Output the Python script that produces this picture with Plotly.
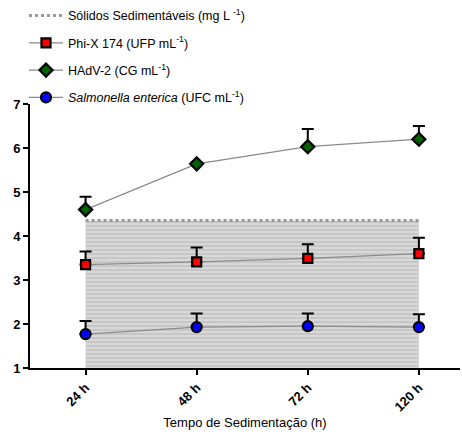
import plotly.graph_objects as go

# Sedimentation time categories
tempos = ["24 h", "48 h", "72 h", "120 h"]

# Settleable solids (mg L-1)
solidos = [4.35, 4.35, 4.35, 4.35]

# Phi-X 174 (log UFP mL-1): mean and upper SD
phix_media = [3.35, 3.41, 3.49, 3.60]
phix_dp = [0.30, 0.33, 0.32, 0.36]

# HAdV-2 (log CG mL-1)
hadv_media = [4.60, 5.64, 6.03, 6.20]
hadv_dp = [0.29, 0.03, 0.40, 0.30]

# Salmonella enterica (log UFC mL-1)
salm_media = [1.77, 1.93, 1.95, 1.93]
salm_dp = [0.30, 0.31, 0.29, 0.29]

yticks = [1, 2, 3, 4, 5, 6, 7]

FONT = "'Liberation Sans', Arial, sans-serif"

fig = go.Figure()

# shaded solids area
fig.add_trace(go.Scatter(
    x=tempos, y=solidos, mode="lines", fill="tozeroy",
    line=dict(width=0, color="rgba(0,0,0,0)"),
    fillcolor="#d6d6d6",
    fillpattern=dict(shape="-", bgcolor="#d8d8d8", fgcolor="#a6a6a6",
                     size=4, solidity=0.18, fillmode="replace"),
    showlegend=False, hoverinfo="skip", legendgroup="g0",
))
# dotted top edge of the solids area
fig.add_trace(go.Scatter(
    x=tempos, y=solidos, mode="lines",
    line=dict(color="#9a9a9a", width=3, dash="dot"),
    name="Sólidos Sedimentáveis (mg L <sup>-1</sup>)",
    legendgroup="g0",
))


def serie(media, dp, nome, simbolo, cor, tamanho, grupo):
    return go.Scatter(
        x=tempos, y=media, mode="lines+markers", name=nome,
        legendgroup=grupo,
        line=dict(color="#8a8a8a", width=1.2),
        marker=dict(symbol=simbolo, size=tamanho, color=cor,
                    line=dict(color="black", width=2.2)),
        error_y=dict(type="data", symmetric=False, array=dp,
                     arrayminus=[0] * len(dp), color="black",
                     thickness=2, width=6),
    )


fig.add_trace(serie(phix_media, phix_dp, "Phi-X 174 (UFP mL<sup>-1</sup>)",
                    "square", "#ff0000", 9, "g1"))
fig.add_trace(serie(hadv_media, hadv_dp, "HAdV-2 (CG mL<sup>-1</sup>)",
                    "diamond", "#006400", 10, "g2"))
fig.add_trace(serie(salm_media, salm_dp,
                    "<i>Salmonella enterica</i> (UFC mL<sup>-1</sup>)",
                    "circle", "#0000ff", 10, "g3"))

fig.update_layout(
    width=462, height=441,
    margin=dict(l=30, r=2, t=103, b=73),
    paper_bgcolor="white", plot_bgcolor="white",
    font=dict(family=FONT, color="black"),
    legend=dict(x=-0.014, y=1.385, xanchor="left", yanchor="top",
                font=dict(size=12.5, family=FONT), tracegroupgap=8,
                itemwidth=34, bgcolor="rgba(0,0,0,0)"),
    xaxis=dict(
        type="category", range=[-0.5, 3.37],
        showline=True, linecolor="black", linewidth=2,
        ticks="outside", ticklen=5, tickwidth=2, tickcolor="black",
        tickangle=-45, tickfont=dict(size=13, family=FONT, weight="bold"),
        showgrid=False, zeroline=False,
        title=dict(text="Tempo de Sedimentação (h)",
                   font=dict(size=13, family=FONT), standoff=5),
    ),
    yaxis=dict(
        range=[1, 7], tickvals=yticks,
        showline=True, linecolor="black", linewidth=2,
        ticks="outside", ticklen=5, tickwidth=2, tickcolor="black",
        tickfont=dict(size=13, family=FONT, weight="bold"),
        showgrid=False, zeroline=False,
    ),
)

fig.write_html("out.html")
